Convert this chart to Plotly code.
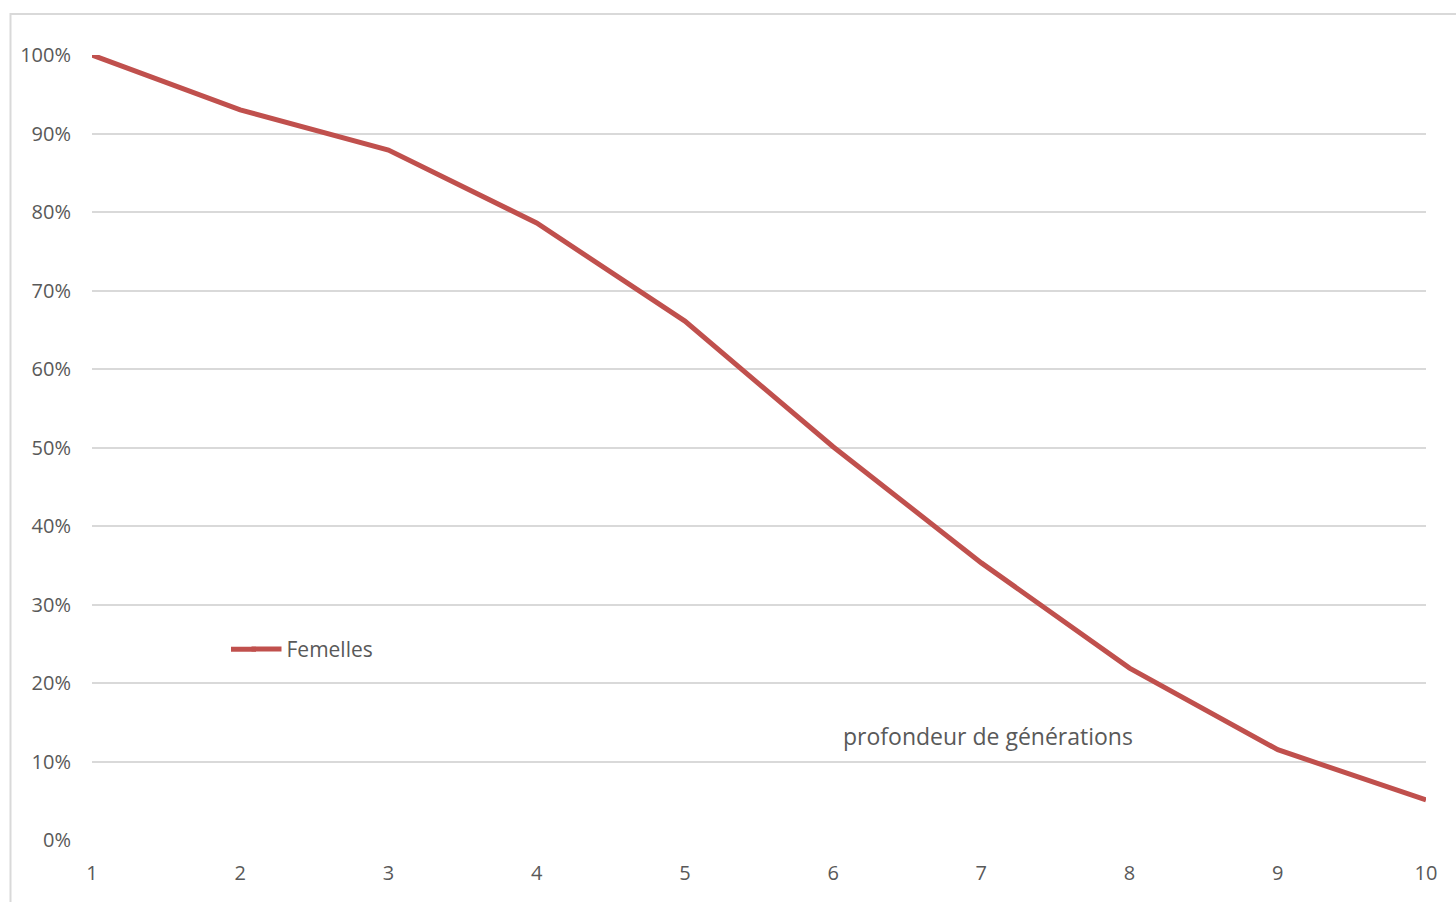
import plotly.graph_objects as go

# Génération (profondeur) et part des femelles
generations = [1, 2, 3, 4, 5, 6, 7, 8, 9, 10]
femelles = [1.000, 0.930, 0.879, 0.786, 0.661, 0.501, 0.353, 0.219, 0.115, 0.051]
y_ticks = [0, 0.1, 0.2, 0.3, 0.4, 0.5, 0.6, 0.7, 0.8, 0.9, 1.0]
y_tick_labels = ["0%", "10%", "20%", "30%", "40%", "50%", "60%", "70%", "80%", "90%", "100%"]

LINE_COLOR = "#C0504D"
TEXT_COLOR = "#595959"
GRID_COLOR = "#D9D9D9"
FONT = "Open Sans, Lato, sans-serif"

PLOT_W = 1334  # largeur de la zone de tracé (px)
PLOT_H = 785   # hauteur de la zone de tracé (px)
LEGEND_Y = 0.243

fig = go.Figure()
fig.add_trace(go.Scatter(
    x=generations,
    y=femelles,
    mode="lines",
    name="Femelles",
    line=dict(color=LINE_COLOR, width=5),
))

fig.add_annotation(
    x=7.045, y=0.132, xref="x", yref="y",
    text="profondeur de générations",
    showarrow=False,
    font=dict(family=FONT, size=23, color=TEXT_COLOR),
)

# Cadre du graphique
fig.add_shape(
    type="rect", xref="paper", yref="paper",
    x0=-0.0611, x1=1.03, y0=-0.1, y1=1.0522,
    line=dict(color=GRID_COLOR, width=2),
    fillcolor="rgba(0,0,0,0)",
    layer="below",
)

# Prolongement du symbole de légende vers la gauche
fig.add_shape(
    type="line", xref="paper", yref="paper",
    x0=(231 - 92) / PLOT_W, x1=(256 - 92) / PLOT_W,
    y0=LEGEND_Y, y1=LEGEND_Y,
    line=dict(color=LINE_COLOR, width=5),
)

fig.update_layout(
    width=1456, height=902,
    margin=dict(l=92, r=30, t=55, b=62),
    paper_bgcolor="white",
    plot_bgcolor="white",
    font=dict(family=FONT, size=20, color=TEXT_COLOR),
    showlegend=True,
    legend=dict(
        x=(246.5 - 92) / PLOT_W, y=LEGEND_Y, xanchor="left", yanchor="middle",
        bgcolor="rgba(0,0,0,0)",
        font=dict(family=FONT, size=21, color=TEXT_COLOR),
        itemwidth=30,
    ),
    xaxis=dict(
        range=[1, 10],
        tickvals=generations,
        ticktext=[str(g) for g in generations],
        showgrid=False,
        zeroline=False,
        showline=False,
        ticks="",
        ticklabelstandoff=19,
        tickfont=dict(family=FONT, size=20, color=TEXT_COLOR),
    ),
    yaxis=dict(
        range=[0, 1.0],
        tickvals=y_ticks,
        ticktext=y_tick_labels,
        showgrid=True,
        gridcolor=GRID_COLOR,
        gridwidth=2,
        zeroline=False,
        showline=False,
        ticks="",
        ticklabelstandoff=20,
        tickfont=dict(family=FONT, size=20, color=TEXT_COLOR),
    ),
)

fig.write_html("out.html")
